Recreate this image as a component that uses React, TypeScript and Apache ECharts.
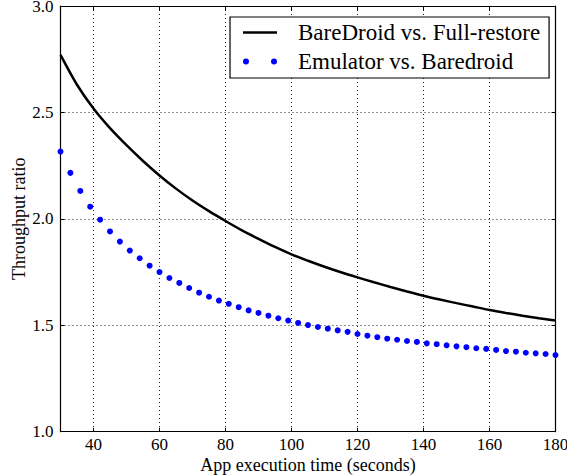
import React, { useEffect, useRef } from "react";
import * as echarts from "echarts";

const lineX = [30, 35, 40, 45, 50, 55, 60, 65, 70, 75, 80, 85, 90, 95, 100, 105, 110, 115, 120, 125, 130, 135, 140, 145, 150, 155, 160, 165, 170, 175, 180];
const lineY = [2.770, 2.630, 2.518, 2.426, 2.346, 2.272, 2.204, 2.142, 2.086, 2.036, 1.990, 1.946, 1.906, 1.868, 1.833, 1.803, 1.775, 1.749, 1.725, 1.702, 1.680, 1.659, 1.639, 1.621, 1.604, 1.588, 1.572, 1.558, 1.545, 1.533, 1.522];

const dotX = [30, 33, 36, 39, 42, 45, 48, 51, 54, 57, 60, 63, 66, 69, 72, 75, 78, 81, 84, 87, 90, 93, 96, 99, 102, 105, 108, 111, 114, 117, 120, 123, 126, 129, 132, 135, 138, 141, 144, 147, 150, 153, 156, 159, 162, 165, 168, 171, 174, 177, 180];
const dotY = [2.316, 2.216, 2.131, 2.057, 1.996, 1.941, 1.893, 1.851, 1.815, 1.780, 1.750, 1.722, 1.699, 1.675, 1.653, 1.634, 1.616, 1.601, 1.585, 1.570, 1.558, 1.545, 1.533, 1.522, 1.511, 1.501, 1.492, 1.484, 1.476, 1.469, 1.459, 1.451, 1.444, 1.437, 1.432, 1.426, 1.422, 1.415, 1.411, 1.406, 1.401, 1.397, 1.392, 1.389, 1.384, 1.379, 1.376, 1.371, 1.368, 1.365, 1.360];

const seriesNames = ["BareDroid vs. Full-restore", "Emulator vs. Baredroid"];
const xTitle = "App execution time (seconds)";
const yTitle = "Throughput ratio";

const FONT = "'Liberation Serif', 'DejaVu Serif', serif";

export default function App() {
  const ref = useRef<HTMLDivElement>(null);
  useEffect(() => {
    if (!ref.current) return;
    const chart = echarts.init(ref.current, null, { renderer: "svg" });
    const gridLine = { show: true, lineStyle: { color: "#222", width: 1, type: [1, 3] as any } };
    const axisLine = { show: true, onZero: false, lineStyle: { color: "#000", width: 1.2 } };
    const tick = { show: true, inside: true, length: 4, lineStyle: { color: "#000", width: 1 } };
    chart.setOption({
      animation: false,
      backgroundColor: "#fff",
      grid: { left: 60.5, right: 11.5, top: 6, bottom: 43.3, containLabel: false, outerBoundsMode: "none" },
      legend: {
        left: 230,
        top: 17,
        orient: "vertical",
        padding: [4, 9, 5, 13],
        itemGap: 6,
        itemWidth: 34,
        itemHeight: 6,
        borderColor: "#000",
        borderWidth: 1.2,
        backgroundColor: "#fff",
        textStyle: { fontFamily: FONT, fontSize: 23, color: "#000", padding: [0, 0, 0, 16] },
        data: [
          {
            name: seriesNames[0],
            icon: "path://M0,0 M0,6 M0,1.75 L34,1.75 L34,4.25 L0,4.25 Z",
          },
          {
            name: seriesNames[1],
            icon: "path://M0,3 A3,3 0 1,0 6,3 A3,3 0 1,0 0,3 Z M28,3 A3,3 0 1,0 34,3 A3,3 0 1,0 28,3 Z",
          },
        ],
      },
      xAxis: [
        {
          type: "value",
          min: 30,
          max: 180,
          minInterval: 20,
          maxInterval: 20,
          position: "bottom",
          axisLine,
          axisTick: tick,
          splitLine: gridLine,
          axisLabel: { showMinLabel: false, color: "#000", fontFamily: FONT, fontSize: 17, lineHeight: 14, margin: 6 },
          name: xTitle,
          nameLocation: "middle",
          nameGap: 25,
          nameMoveOverlap: false,
          nameTextStyle: { fontFamily: FONT, fontSize: 18, lineHeight: 16, color: "#000" },
        },
        {
          type: "value",
          min: 30,
          max: 180,
          minInterval: 20,
          maxInterval: 20,
          position: "top",
          axisLine,
          axisTick: tick,
          splitLine: { show: false },
          axisLabel: { show: false },
        },
      ],
      yAxis: [
        {
          type: "value",
          min: 1,
          max: 3,
          interval: 0.5,
          position: "left",
          axisLine,
          axisTick: tick,
          splitLine: gridLine,
          axisLabel: {
            color: "#000",
            fontFamily: FONT,
            fontSize: 17,
            lineHeight: 12,
            padding: [3, 0, 0, 0],
            margin: 7,
            formatter: (v: number) => v.toFixed(1),
          },
          name: yTitle,
          nameLocation: "middle",
          nameGap: 33,
          nameMoveOverlap: false,
          nameTextStyle: { fontFamily: FONT, fontSize: 18, color: "#000" },
        },
        {
          type: "value",
          min: 1,
          max: 3,
          interval: 0.5,
          position: "right",
          axisLine,
          axisTick: tick,
          splitLine: { show: false },
          axisLabel: { show: false },
        },
      ],
      series: [
        {
          name: seriesNames[0],
          type: "line",
          xAxisIndex: 0,
          yAxisIndex: 0,
          smooth: 0.3,
          symbol: "none",
          lineStyle: { color: "#000", width: 2.5 },
          itemStyle: { color: "#000" },
          data: lineX.map((x, i) => [x, lineY[i]]),
          z: 3,
        },
        {
          name: seriesNames[1],
          type: "scatter",
          xAxisIndex: 0,
          yAxisIndex: 0,
          symbol: "circle",
          symbolSize: 6,
          itemStyle: { color: "#0000ff", opacity: 1 },
          data: dotX.map((x, i) => [x, dotY[i]]),
          clip: true,
          z: 3,
        },
      ],
    });
    return () => chart.dispose();
  }, []);
  return <div ref={ref} style={{ position: "fixed", left: 0, top: 0, width: 567, height: 475 }} />;
}
